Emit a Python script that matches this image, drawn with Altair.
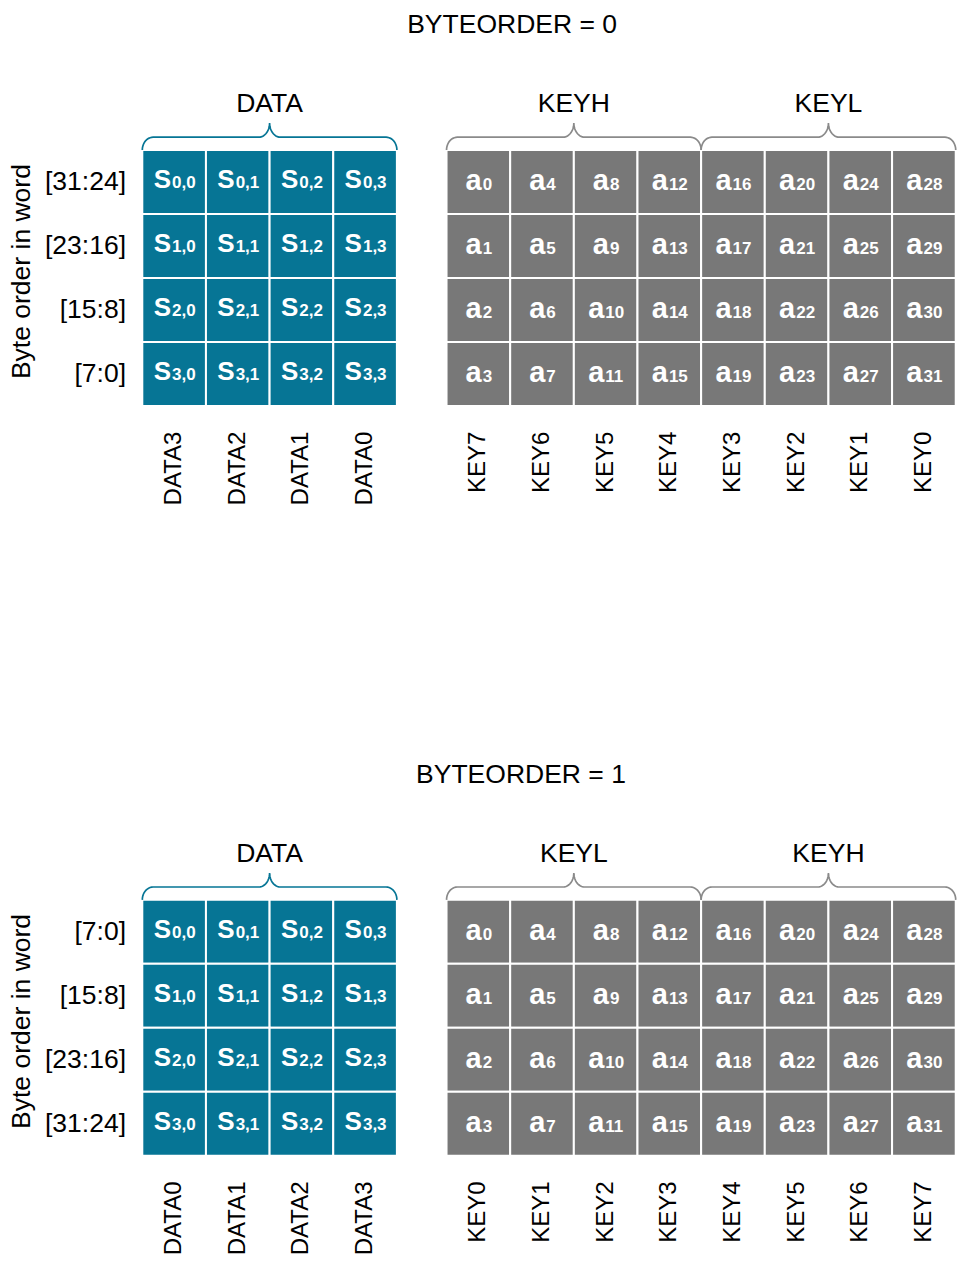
import altair as alt
import numpy as np
import pandas as pd

# ---------------- data ----------------
TITLES = ["BYTEORDER = 0", "BYTEORDER = 1"]
Y_TITLE = "Byte order in word"
ROW_LABELS = [["[31:24]", "[23:16]", "[15:8]", "[7:0]"],
              ["[7:0]", "[15:8]", "[23:16]", "[31:24]"]]
DATA_COLS = [["DATA3", "DATA2", "DATA1", "DATA0"],
             ["DATA0", "DATA1", "DATA2", "DATA3"]]
KEY_COLS = [["KEY7", "KEY6", "KEY5", "KEY4", "KEY3", "KEY2", "KEY1", "KEY0"],
            ["KEY0", "KEY1", "KEY2", "KEY3", "KEY4", "KEY5", "KEY6", "KEY7"]]
DATA_GROUP = ["DATA", "DATA"]
KEY_GROUPS = [["KEYH", "KEYL"], ["KEYL", "KEYH"]]
S_SUBS = [["0,0", "0,1", "0,2", "0,3"],
          ["1,0", "1,1", "1,2", "1,3"],
          ["2,0", "2,1", "2,2", "2,3"],
          ["3,0", "3,1", "3,2", "3,3"]]
A_SUBS = [["0", "4", "8", "12", "16", "20", "24", "28"],
          ["1", "5", "9", "13", "17", "21", "25", "29"],
          ["2", "6", "10", "14", "18", "22", "26", "30"],
          ["3", "7", "11", "15", "19", "23", "27", "31"]]

# ---------------- layout (cell units) ----------------
TEAL = "#067595"
GREY = "#787878"
BRACE_GREY = "#8a8a8a"
FONT = "Liberation Sans"
W, H = 949, 1250
XMIN, XMAX = -2.11, 12.80
YMIN, YMAX = -2.21875, 17.3125
PX = W / (XMAX - XMIN)           # pixels per x unit
KEY_X0 = 4.78
PANEL_DY = 11.716
TITLE_X = [5.81, 5.95]
TITLE_Y = -1.95
GROUP_Y = -0.72
ROWLAB_X = -0.256
YTITLE_X = -1.89
COLLAB_Y = 4.40
LABEL_FS = 26.5
COL_FS = 24

MAIN_FS, SUB_FS = 26, 17
A_FS, A_SUB_FS = 29, 17

cells, mains, subs = [], [], []
for p in range(2):
    oy = p * PANEL_DY
    for r in range(4):
        for c in range(4):
            cx = c + 0.5
            mw = 0.667 * MAIN_FS
            sw = sum(0.278 if ch == "," else 0.556 for ch in S_SUBS[r][c]) * SUB_FS
            split = cx + (mw - sw) / 2 / PX
            cells.append(dict(x=c, x2=c + 1, y=r + oy, y2=r + 1 + oy, fill=TEAL))
            mains.append(dict(x=split, y=r + oy + 0.59, t="S", fs=MAIN_FS))
            subs.append(dict(x=split, y=r + oy + 0.59, t=S_SUBS[r][c], fs=SUB_FS))
        for c in range(8):
            cx = KEY_X0 + c + 0.5
            mw = 0.556 * A_FS
            sw = 0.556 * A_SUB_FS * len(A_SUBS[r][c])
            split = cx + (mw - sw) / 2 / PX
            cells.append(dict(x=KEY_X0 + c, x2=KEY_X0 + c + 1, y=r + oy, y2=r + 1 + oy, fill=GREY))
            mains.append(dict(x=split, y=r + oy + 0.62, t="a", fs=A_FS))
            subs.append(dict(x=split, y=r + oy + 0.62, t=A_SUBS[r][c], fs=A_SUB_FS))

cells = pd.DataFrame(cells)
mains = pd.DataFrame(mains)
subs = pd.DataFrame(subs)

# braces
def brace(u0, u1, oy, name, color):
    rx, ry_end, ry_mid, line = 0.17, 0.2, 0.22, -0.2
    mid = (u0 + u1) / 2
    t = np.linspace(0, np.pi / 2, 12)
    pts = []
    pts += list(zip(u0 + rx - rx * np.cos(t), 0 - ry_end * np.sin(t)))
    pts += list(zip(mid - rx + rx * np.sin(t), line - ry_mid + ry_mid * np.cos(t)))
    pts += list(zip(mid + rx - rx * np.sin(t[::-1]), line - ry_mid + ry_mid * np.cos(t[::-1])))
    pts += list(zip(u1 - rx + rx * np.cos(t[::-1]), 0 - ry_end * np.sin(t[::-1])))
    return [dict(b=name, i=k, x=x, y=y + oy, col=color) for k, (x, y) in enumerate(pts)]

br = []
for p in range(2):
    oy = p * PANEL_DY
    br += brace(0, 4, oy, f"d{p}", TEAL)
    br += brace(KEY_X0, KEY_X0 + 4, oy, f"k{p}a", BRACE_GREY)
    br += brace(KEY_X0 + 4, KEY_X0 + 8, oy, f"k{p}b", BRACE_GREY)
braces = pd.DataFrame(br)

titles = pd.DataFrame([dict(x=TITLE_X[p], y=TITLE_Y + p * PANEL_DY, t=TITLES[p]) for p in range(2)])
groups = []
for p in range(2):
    oy = p * PANEL_DY
    groups.append(dict(x=2, y=GROUP_Y + oy, t=DATA_GROUP[p]))
    groups.append(dict(x=KEY_X0 + 2, y=GROUP_Y + oy, t=KEY_GROUPS[p][0]))
    groups.append(dict(x=KEY_X0 + 6, y=GROUP_Y + oy, t=KEY_GROUPS[p][1]))
groups = pd.DataFrame(groups)

rowlabs = pd.DataFrame([dict(x=ROWLAB_X, y=r + 0.5 + p * PANEL_DY, t=ROW_LABELS[p][r])
                        for p in range(2) for r in range(4)])
ytitles = pd.DataFrame([dict(x=YTITLE_X, y=2 - 0.1 + p * PANEL_DY, t=Y_TITLE) for p in range(2)])
collabs = []
for p in range(2):
    for c in range(4):
        collabs.append(dict(x=c + 0.5, y=COLLAB_Y + p * PANEL_DY, t=DATA_COLS[p][c]))
    for c in range(8):
        collabs.append(dict(x=KEY_X0 + c + 0.5, y=COLLAB_Y + p * PANEL_DY, t=KEY_COLS[p][c]))
collabs = pd.DataFrame(collabs)

X = alt.X("x:Q", scale=alt.Scale(domain=[XMIN, XMAX], nice=False, zero=False), axis=None)
Y = alt.Y("y:Q", scale=alt.Scale(domain=[YMIN, YMAX], nice=False, zero=False, reverse=True), axis=None)

rects = alt.Chart(cells).mark_rect(stroke="white", strokeWidth=2).encode(
    x=X, x2="x2:Q", y=Y, y2="y2:Q", fill=alt.Fill("fill:N", scale=None))

main_s = alt.Chart(mains).mark_text(font=FONT, fontWeight="bold", color="white",
                                    align="right", baseline="alphabetic").encode(
    x=X, y=Y, text="t:N", size=alt.Size("fs:Q", scale=None, legend=None))
sub_s = alt.Chart(subs).mark_text(font=FONT, fontWeight="bold", color="white",
                                  align="left", baseline="alphabetic", dx=1).encode(
    x=X, y=Y, text="t:N", size=alt.Size("fs:Q", scale=None, legend=None))

brace_l = alt.Chart(braces).mark_line(strokeWidth=1.7).encode(
    x=X, y=Y, detail="b:N", order="i:Q", color=alt.Color("col:N", scale=None))

title_t = alt.Chart(titles).mark_text(font=FONT, fontSize=LABEL_FS, color="black",
                                      align="center", baseline="middle").encode(x=X, y=Y, text="t:N")
group_t = alt.Chart(groups).mark_text(font=FONT, fontSize=LABEL_FS, color="black",
                                      align="center", baseline="middle").encode(x=X, y=Y, text="t:N")
row_t = alt.Chart(rowlabs).mark_text(font=FONT, fontSize=LABEL_FS, color="black",
                                     align="right", baseline="middle").encode(x=X, y=Y, text="t:N")
ytitle_t = alt.Chart(ytitles).mark_text(font=FONT, fontSize=LABEL_FS, color="black", angle=270,
                                        align="center", baseline="middle").encode(x=X, y=Y, text="t:N")
col_t = alt.Chart(collabs).mark_text(font=FONT, fontSize=COL_FS, color="black", angle=270,
                                     align="right", baseline="middle").encode(x=X, y=Y, text="t:N")

chart = alt.layer(rects, brace_l, main_s, sub_s, title_t, group_t, row_t, ytitle_t, col_t).properties(
    width=W, height=H, padding=0, autosize="none"
).configure_view(stroke=None)

chart.save("out.html", embed_options={"renderer": "svg", "actions": False})
